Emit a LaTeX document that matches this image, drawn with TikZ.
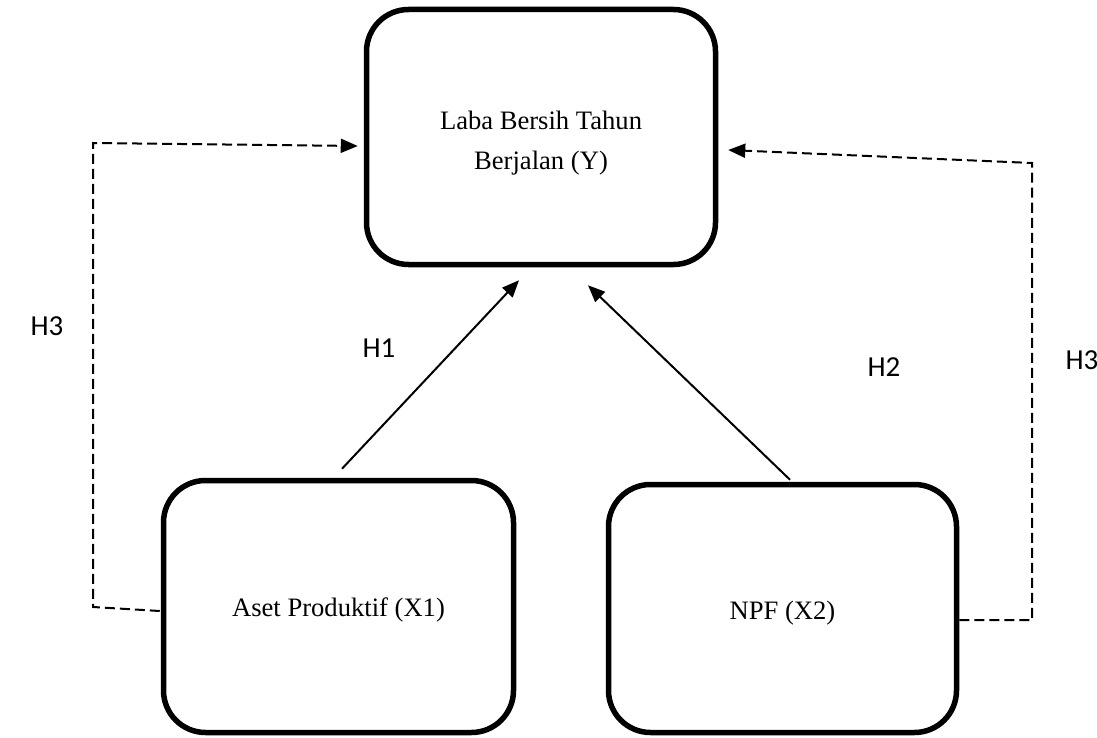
\documentclass[tikz,border=0pt]{standalone}
\usepackage{fontspec}
\setmainfont{Liberation Serif}
\newfontfamily\hfont{Carlito}
\usetikzlibrary{arrows.meta,calc}
\begin{document}
\begin{tikzpicture}[x=1pt,y=-1pt,
  varbox/.style={draw,line width=5.5pt,rounded corners=42pt,inner sep=0pt},
  vtext/.style={align=center,font=\fontsize{26.6}{40}\selectfont},
  arr/.style={line width=2pt,-{Triangle[length=17pt,width=14pt]}},
  dsh/.style={line width=2pt,dash pattern=on 10pt off 5pt},
  dsharr/.style={dsh,-{Triangle[length=17pt,width=14pt]}},
  hlab/.style={font=\hfont\fontsize{29}{32}\selectfont,inner sep=0pt}]
\useasboundingbox (0,0) rectangle (1097,738);
\node[varbox,minimum width=349pt,minimum height=255pt,
  label={[vtext,yshift=-6pt]center:Laba Bersih Tahun\\Berjalan (Y)}] (Y) at (541,137) {};
\node[varbox,minimum width=350pt,minimum height=252pt,
  label={[vtext,yshift=-3pt]center:Aset Produktif (X1)}] (X1) at (338.5,606.5) {};
\node[varbox,minimum width=348pt,minimum height=248pt,
  label={[vtext,yshift=-5pt]center:NPF (X2)}] (X2) at (782.5,608.5) {};
\coordinate (l1) at (93,607);
\coordinate (l2) at (93,143);
\coordinate (r1) at (1032,620);
\coordinate (r2) at (1032,163);
\draw[arr] ($(X1.north)+(3.5,-9)$) -- ($(Y.south)+(-22,13)$);
\draw[arr] ($(X2.north)+(7.5,-2)$) -- ($(Y.south)+(47,18)$);
\draw[dsharr] ($(X1.west)+(-1,4.5)$) -- (l1) -- (l2) -- ($(Y.west)+(-6,9)$);
\draw[dsharr] ($(X2.east)+(0,11.5)$) -- (r1) -- (r2) -- ($(Y.east)+(10,13)$);
\node[hlab] (h3l) at (47,326) {H3};
\node[hlab] (h1) at (379,348) {H1};
\node[hlab] (h2) at (884,367) {H2};
\node[hlab] (h3r) at (1082,360) {H3};
\end{tikzpicture}
\end{document}
